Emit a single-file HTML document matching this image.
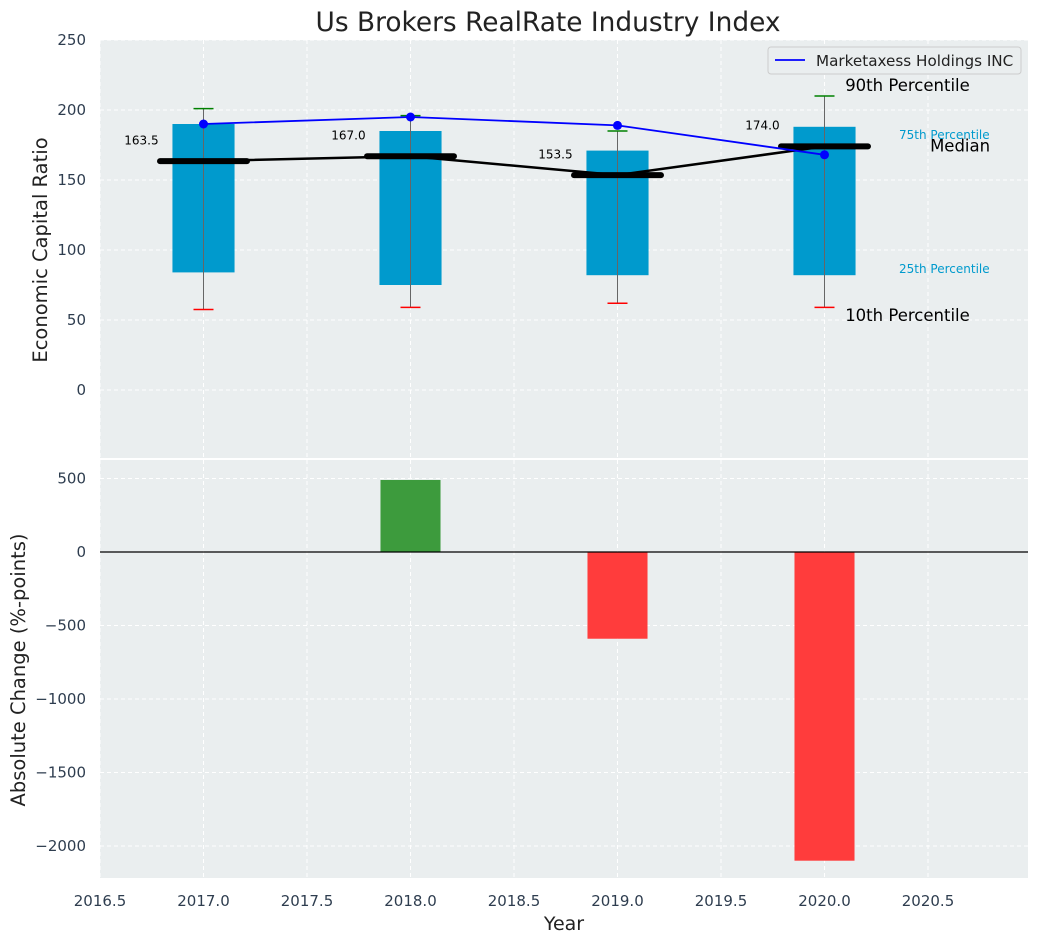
<!DOCTYPE html>
<html><head><meta charset="utf-8"><style>
body{margin:0;background:#fff;font-family:"Liberation Sans","DejaVu Sans",sans-serif}
svg text{font-family:"DejaVu Sans","Liberation Sans",sans-serif}
</style></head><body>
<svg id="c" width="1039" height="942" xmlns="http://www.w3.org/2000/svg"></svg>
<script>
const years=[2017,2018,2019,2020];
const q25=[84,75,82,82];
const q75=[190,185,171,188];
const p10=[57.5,59,62,59];
const p90=[201,196,185,210];
const medians=[163.5,167,153.5,174];
const company=[190,195,189,168];
const changes=[0,490,-590,-2100];
const xTicks=[2016.5,2017,2017.5,2018,2018.5,2019,2019.5,2020,2020.5];
const yTopTicks=[0,50,100,150,200,250];
const yBotTicks=[-2000,-1500,-1000,-500,0,500];

const NS="http://www.w3.org/2000/svg";
const svg=document.getElementById('c');
function el(t,a,p){const e=document.createElementNS(NS,t);for(const k in a)e.setAttribute(k,a[k]);(p||svg).appendChild(e);return e;}
const L=100,R=1028;
const X=v=>L+(v-2016.5)*207;
const T0=40,T1=458,B0=460,B1=878;
const YT=v=>390-v*1.4;
const YB=v=>552-v*0.147;

let bg=el('rect',{x:L,y:T0,width:R-L,height:T1-T0,fill:'#eaeeef'});

let bg2=el('rect',{x:L,y:B0,width:R-L,height:B1-B0,fill:'#eaeeef'});


xTicks.forEach(v=>{
  el('line',{x1:X(v),x2:X(v),y1:T0,y2:T1,stroke:'#fff','stroke-dasharray':'4,3'});
  el('line',{x1:X(v),x2:X(v),y1:B0,y2:B1,stroke:'#fff','stroke-dasharray':'4,3'});
  const t=el('text',{x:X(v),y:906,'text-anchor':'middle','font-size':15,fill:'#2e3d4f'});t.textContent=v.toFixed(1);
  
});
yTopTicks.forEach(v=>{
  el('line',{x1:L,x2:R,y1:YT(v),y2:YT(v),stroke:'#fff','stroke-dasharray':'4,3'});
  const t=el('text',{x:86,y:YT(v)+5,'text-anchor':'end','font-size':15,fill:'#2e3d4f'});t.textContent=v;
  
});
yBotTicks.forEach(v=>{
  el('line',{x1:L,x2:R,y1:YB(v),y2:YB(v),stroke:'#fff','stroke-dasharray':'4,3'});
  const t=el('text',{x:86,y:YB(v)+5,'text-anchor':'end','font-size':15,fill:'#2e3d4f'});t.textContent=(v<0?'\u2212'+(-v):v);
  
});

years.forEach((y,i)=>{
  const b=el('rect',{x:X(y-0.15),y:YT(q75[i]),width:0.3*207,height:YT(q25[i])-YT(q75[i]),fill:'#009acd'});
  
  el('line',{x1:X(y),x2:X(y),y1:YT(p10[i]),y2:YT(p90[i]),stroke:'#666','stroke-width':1});
  const c1=el('line',{x1:X(y)-10,x2:X(y)+10,y1:YT(p90[i]),y2:YT(p90[i]),stroke:'green','stroke-width':1.5});
  
  const c2=el('line',{x1:X(y)-10,x2:X(y)+10,y1:YT(p10[i]),y2:YT(p10[i]),stroke:'red','stroke-width':1.5});
  
  const m=el('line',{x1:X(y-0.21),x2:X(y+0.21),y1:YT(medians[i]),y2:YT(medians[i]),stroke:'#000','stroke-width':6,'stroke-linecap':'round'});
  
  const t=el('text',{x:X(y-0.3),y:YT(medians[i]+12),'text-anchor':'middle','font-size':12,fill:'#000'});t.textContent=medians[i].toFixed(1);
  
});
const ml=el('polyline',{points:years.map((y,i)=>X(y)+','+YT(medians[i])).join(' '),fill:'none',stroke:'#000','stroke-width':2.5});

const cl=el('polyline',{points:years.map((y,i)=>X(y)+','+YT(company[i])).join(' '),fill:'none',stroke:'blue','stroke-width':1.8});

years.forEach((y,i)=>{const p=el('circle',{cx:X(y),cy:YT(company[i]),r:4.5,fill:'blue'});
  });

const li=years.length-1,ly=years[li];
function ann(txt,xv,yv,size,col,name){const t=el('text',{x:X(xv),y:YT(yv)+5,'font-size':size,fill:col});t.textContent=txt;
  }
ann('90th Percentile',ly+0.1,p90[li]+7,16.5,'#000','p90-annotation');
ann('75th Percentile',ly+0.36,q75[li]-5,12,'#009acd','p75-annotation');
ann('Median',ly+0.51,medians[li],16.5,'#000','median-annotation');
ann('25th Percentile',ly+0.36,q25[li]+5,12,'#009acd','p25-annotation');
ann('10th Percentile',ly+0.1,p10[li]-6,16.5,'#000','p10-annotation');

const lg=el('g',{});
el('rect',{x:768,y:47,width:253,height:27,rx:3,fill:'#eaeeef',stroke:'#ccc'},lg);
el('line',{x1:775,x2:805,y1:60,y2:60,stroke:'blue','stroke-width':1.8},lg);
const lt=el('text',{x:816,y:66,'font-size':15.2,fill:'#222'},lg);lt.textContent='Marketaxess Holdings INC';

years.forEach((y,i)=>{if(changes[i]===0)return;
  const v=changes[i];
  const r=el('rect',{x:X(y-0.145),y:Math.min(YB(0),YB(v)),width:0.29*207,height:Math.abs(YB(v)-YB(0)),fill:v>0?'#3d9b3d':'#ff3c3c'});
  
});
el('line',{x1:L,x2:R,y1:YB(0),y2:YB(0),stroke:'#000','stroke-width':1.2});

function txt(s,a,name){const t=el('text',a);t.textContent=s;}
txt('Us Brokers RealRate Industry Index',{x:548,y:31,'text-anchor':'middle','font-size':26.4,fill:'#222'},'chart-title');
txt('Year',{x:564,y:930,'text-anchor':'middle','font-size':19,fill:'#222'},'x-axis-title');
txt('Economic Capital Ratio',{x:0,y:0,transform:'translate(47,250) rotate(-90)','text-anchor':'middle','font-size':19.5,fill:'#222'},'y-axis-title-top');
txt('Absolute Change (%-points)',{x:0,y:0,transform:'translate(25,670) rotate(-90)','text-anchor':'middle','font-size':19.5,fill:'#222'},'y-axis-title-bottom');
</script>
</body></html>
